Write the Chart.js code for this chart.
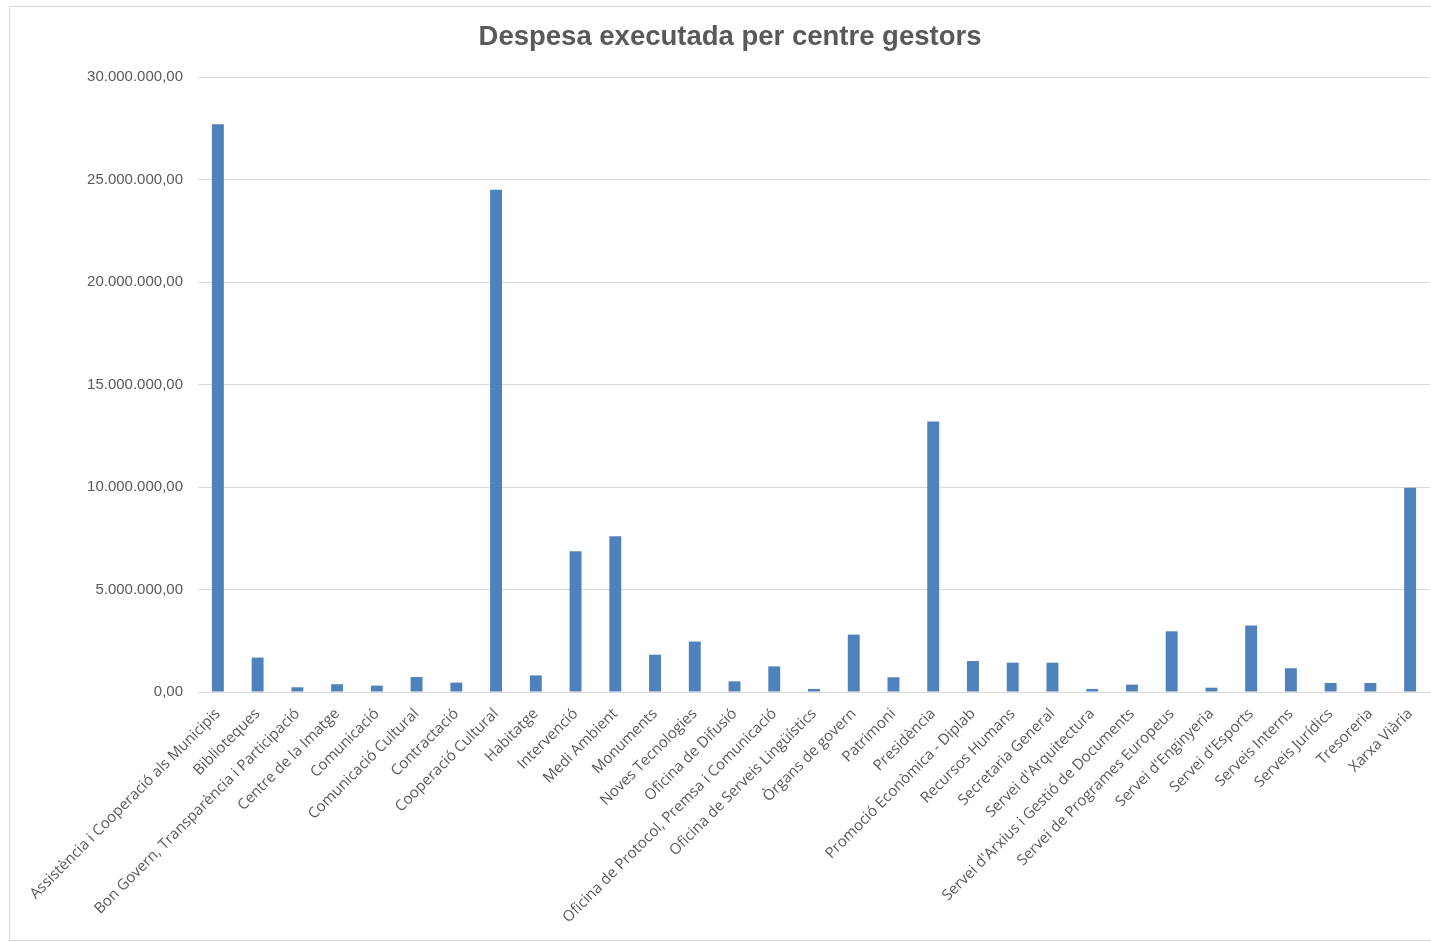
<!DOCTYPE html>
<html>
<head>
<meta charset="utf-8">
<script src="https://cdn.jsdelivr.net/npm/chart.js@4"></script>
<style>
  html, body { margin: 0; padding: 0; background: #fff; }
  #frame { position: absolute; left: 9px; top: 6px; width: 1440px; height: 933px; border: 1px solid #d9d9d9; }
  #chart { position: absolute; left: 0; top: 0; }
</style>
</head>
<body>
<div id="frame"></div>
<canvas id="chart" width="1431" height="942"></canvas>
<script>
// categories (centres gestors)
var centres = [
    "Assistència i Cooperació als Municipis",
    "Biblioteques",
    "Bon Govern, Transparència i Participació",
    "Centre de la Imatge",
    "Comunicació",
    "Comunicació Cultural",
    "Contractació",
    "Cooperació Cultural",
    "Habitatge",
    "Intervenció",
    "Medi Ambient",
    "Monuments",
    "Noves Tecnologies",
    "Oficina de Difusió",
    "Oficina de Protocol, Premsa i Comunicació",
    "Oficina de Serveis Lingüístics",
    "Òrgans de govern",
    "Patrimoni",
    "Presidència",
    "Promoció Econòmica - Diplab",
    "Recursos Humans",
    "Secretaria General",
    "Servei d'Arquitectura",
    "Servei d'Arxius i Gestió de Documents",
    "Servei de Programes Europeus",
    "Servei d'Enginyeria",
    "Servei d'Esports",
    "Serveis Interns",
    "Serveis Jurídics",
    "Tresoreria",
    "Xarxa Viària"
];

// despesa executada (euros)
var despesa = [
    27700000, 1680000, 230000, 380000, 310000, 730000, 460000, 24500000,
    810000, 6870000, 7600000, 1820000, 2460000, 520000, 1250000, 150000,
    2800000, 720000, 13200000, 1510000, 1430000, 1430000, 150000, 360000,
    2960000, 210000, 3240000, 1160000, 440000, 440000, 9960000
];

var yMax = 30000000;
var yStep = 5000000;

function formatEuro(v) {
    var s = Math.round(v).toString();
    var out = "";
    while (s.length > 3) {
        out = "." + s.slice(-3) + out;
        s = s.slice(0, -3);
    }
    return s + out + ",00";
}

var ctx = document.getElementById('chart').getContext('2d');
var chart = new Chart(ctx, {
    type: 'bar',
    data: {
        labels: centres,
        datasets: [{
            data: despesa,
            backgroundColor: '#4f81bd',
            borderWidth: 0,
            categoryPercentage: 1,
            barPercentage: 0.3
        }]
    },
    options: {
        responsive: false,
        animation: false,
        layout: {
            // left padding pushes the title centre to the right like the original
            padding: { top: 19, right: 1, bottom: 0, left: 30 }
        },
        scales: {
            x: {
                grid: { display: false },
                border: { display: true, color: '#d9d9d9', width: 1 },
                ticks: {
                    autoSkip: false,
                    minRotation: 45,
                    maxRotation: 45,
                    padding: 5,
                    color: '#595959',
                    font: { family: 'Open Sans', size: 15 }
                },
                afterFit: function (scale) {
                    scale.height = 250;
                }
            },
            y: {
                min: 0,
                max: yMax,
                grid: { color: '#d9d9d9', drawTicks: false },
                border: { display: false },
                ticks: {
                    stepSize: yStep,
                    padding: 15,
                    color: '#595959',
                    font: { family: 'Liberation Sans', size: 15 },
                    callback: function (value) {
                        return formatEuro(value);
                    }
                },
                afterFit: function (scale) {
                    scale.width = 168;
                }
            }
        },
        plugins: {
            legend: { display: false },
            tooltip: { enabled: false },
            title: {
                display: true,
                text: 'Despesa executada per centre gestors',
                color: '#595959',
                font: { family: 'Liberation Sans', size: 27.5, weight: 'bold', lineHeight: 1.2 },
                padding: { top: 2, bottom: 23 }
            }
        }
    }
});
</script>
</body>
</html>
